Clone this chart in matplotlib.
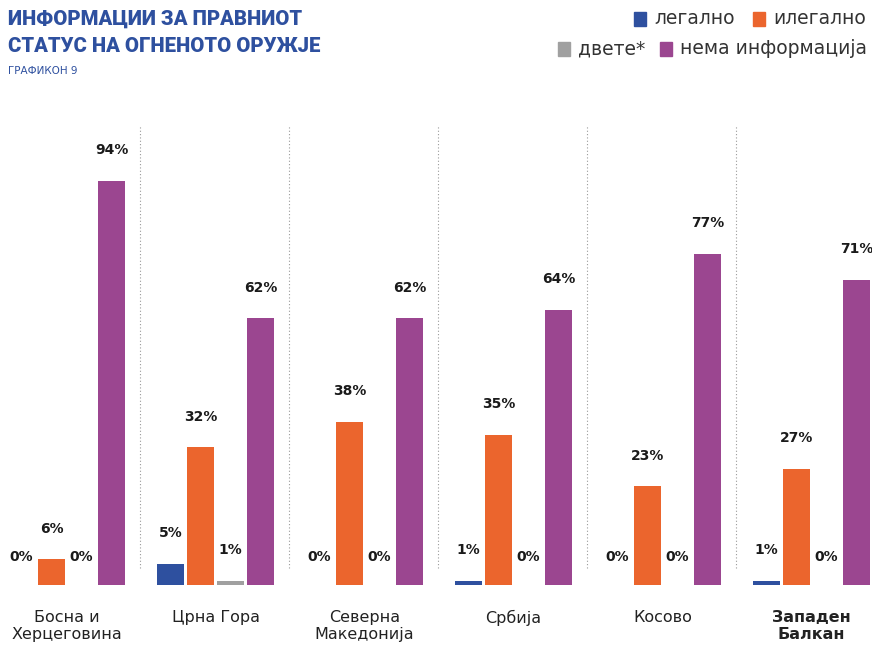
import matplotlib.pyplot as plt
import numpy as np
from matplotlib.patches import Rectangle

countries = ["Босна и\nХерцеговина", "Црна Гора", "Северна\nМакедонија", "Србија", "Косово", "Западен\nБалкан"]
series_names = ["легално", "илегално", "двете*", "нема информација"]
legal = [0, 5, 0, 1, 0, 1]
illegal = [6, 32, 38, 35, 23, 27]
both = [0, 1, 0, 0, 0, 0]
no_info = [94, 62, 62, 64, 77, 71]

colors = ["#2E509F", "#EB652D", "#A0A0A0", "#9B4690"]
title_blue = "#2E509F"

W, H = 872, 645
fig = plt.figure(figsize=(W / 100, H / 100), dpi=100)

# axes placed so the baseline sits at y=585px and groups are 149px apart
base_px = 585
px_per_pct = 4.3
ymax = 110
group_px = 149
first_px = 66.5
ax = fig.add_axes([0, (H - base_px) / H, 1, ymax * px_per_pct / H])
ax.set_xlim(-first_px / group_px, (W - first_px) / group_px)
ax.set_ylim(0, ymax)
for s in ax.spines.values():
    s.set_visible(False)

x = np.arange(len(countries))
offsets = np.array([-45, -15, 15, 45]) / group_px
width = 27 / group_px
data = [legal, illegal, both, no_info]

for k, vals in enumerate(data):
    ax.bar(x + offsets[k], vals, width, color=colors[k], zorder=2)
    for i, v in enumerate(vals):
        ax.annotate(f"{v}%", (x[i] + offsets[k], v), xytext=(0, 22 if v > 0 else 20),
                    textcoords="offset points", ha="center", va="center",
                    fontsize=10, fontweight="bold", color="#1a1a1a")

# dotted separators between groups
ax.vlines(x[:-1] + 0.5 - 1.5 / group_px, 4, 107, colors="#9a9a9a",
          linestyles=(0, (1, 2)), linewidth=0.8)

ax.set_yticks([])
ax.set_xticks(x)
ax.set_xticklabels(countries, fontsize=11.5, color="#222222", linespacing=1.15, va="top")
ax.tick_params(axis="x", length=0, pad=18)
ax.get_xticklabels()[-1].set_fontweight("bold")

# title
for j, line in enumerate(["ИНФОРМАЦИИ ЗА ПРАВНИОТ", "СТАТУС НА ОГНЕНОТО ОРУЖЈЕ"]):
    fig.text(8 / W, 1 - (19 + 28 * j) / H, line, fontsize=14.6, fontweight="heavy",
             color=title_blue, va="center", ha="left", family="Roboto")
fig.text(8 / W, 1 - 71 / H, "ГРАФИКОН 9", fontsize=7.5, color=title_blue, va="center", ha="left")

# legend drawn by hand, two right-aligned rows
legend_pos = [(634, 19), (753, 19), (558, 49), (660, 49)]
for k, (lx, ly) in enumerate(legend_pos):
    fig.patches.append(Rectangle((lx / W, 1 - (ly + 6.5) / H), 12 / W, 13 / H,
                                 transform=fig.transFigure, color=colors[k]))
    fig.text((lx + 20) / W, 1 - ly / H, series_names[k], fontsize=13.5, color="#333333",
             va="center", ha="left")

fig.savefig("out.png", dpi=100)
